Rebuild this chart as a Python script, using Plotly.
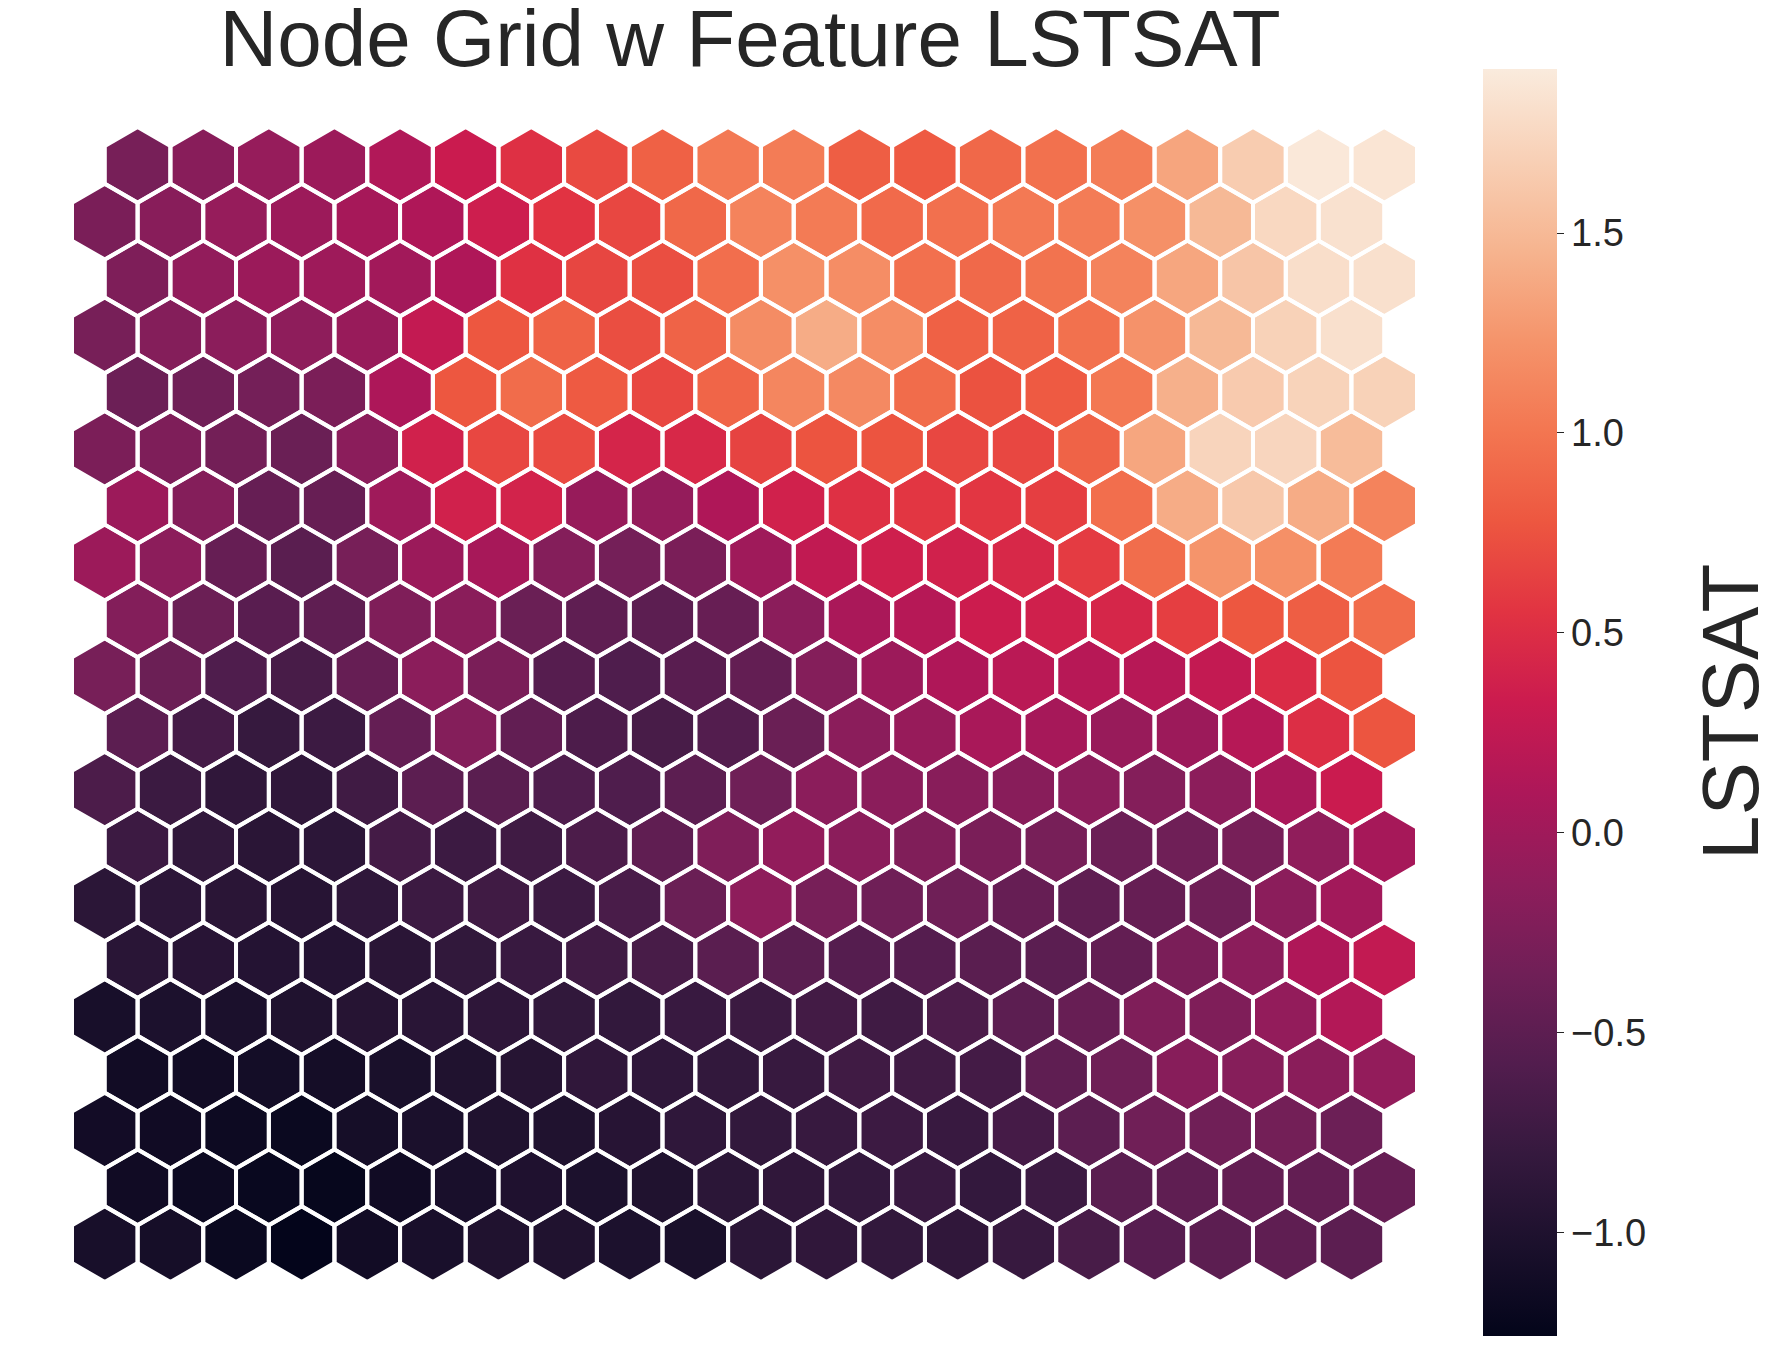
import numpy as np
import plotly.graph_objects as go
from plotly.colors import sample_colorscale

# ---------------- data (rows listed from top of the grid to bottom) ----------------
row00 = [-0.30,-0.17,-0.07,-0.02,0.13,0.32,0.52,0.70,0.85,1.03,1.05,0.83,0.80,0.90,0.97,1.06,1.35,1.65,1.89,1.86]
row01 = [-0.28,-0.17,-0.07,-0.02,0.05,0.12,0.35,0.55,0.68,0.90,1.10,1.04,0.92,0.96,1.03,1.05,1.20,1.50,1.75,1.83]
row02 = [-0.25,-0.10,-0.03,-0.01,0.02,0.12,0.53,0.67,0.72,0.95,1.20,1.18,0.96,0.91,0.98,1.10,1.36,1.60,1.80,1.82]
row03 = [-0.30,-0.20,-0.15,-0.13,-0.05,0.27,0.78,0.86,0.72,0.87,1.17,1.40,1.18,0.85,0.86,0.97,1.22,1.50,1.70,1.82]
row04 = [-0.38,-0.35,-0.32,-0.27,0.10,0.78,0.93,0.80,0.68,0.88,1.13,1.15,0.93,0.75,0.80,1.02,1.43,1.64,1.71,1.70]
row05 = [-0.27,-0.25,-0.33,-0.40,-0.15,0.38,0.68,0.70,0.42,0.45,0.65,0.76,0.76,0.68,0.68,0.87,1.36,1.72,1.73,1.52]
row06 = [-0.02,-0.20,-0.43,-0.42,0.00,0.38,0.40,-0.06,-0.08,0.12,0.38,0.52,0.57,0.57,0.62,0.95,1.40,1.62,1.40,1.10]
row07 = [-0.02,-0.14,-0.43,-0.52,-0.30,-0.03,0.06,-0.20,-0.32,-0.28,0.00,0.25,0.36,0.38,0.45,0.60,0.94,1.23,1.20,1.04]
row08 = [-0.21,-0.39,-0.53,-0.48,-0.24,-0.16,-0.40,-0.48,-0.50,-0.42,-0.15,0.08,0.17,0.34,0.37,0.43,0.62,0.78,0.83,0.93]
row09 = [-0.30,-0.39,-0.60,-0.66,-0.43,-0.15,-0.28,-0.55,-0.60,-0.53,-0.45,-0.20,-0.02,0.12,0.20,0.18,0.18,0.27,0.48,0.76]
row10 = [-0.50,-0.68,-0.80,-0.75,-0.44,-0.20,-0.46,-0.62,-0.66,-0.57,-0.40,-0.15,-0.06,0.07,0.05,-0.05,-0.02,0.17,0.50,0.77]
row11 = [-0.63,-0.76,-0.85,-0.85,-0.72,-0.50,-0.52,-0.60,-0.60,-0.50,-0.36,-0.15,-0.15,-0.17,-0.17,-0.14,-0.20,-0.14,0.07,0.32]
row12 = [-0.75,-0.84,-0.90,-0.88,-0.69,-0.75,-0.72,-0.63,-0.47,-0.24,-0.10,-0.15,-0.23,-0.28,-0.30,-0.38,-0.36,-0.30,-0.11,0.05]
row13 = [-0.89,-0.88,-0.90,-0.93,-0.86,-0.75,-0.72,-0.75,-0.65,-0.40,-0.13,-0.30,-0.36,-0.36,-0.43,-0.48,-0.43,-0.36,-0.15,0.02]
row14 = [-0.91,-0.92,-0.95,-0.95,-0.90,-0.84,-0.78,-0.72,-0.66,-0.52,-0.52,-0.56,-0.56,-0.52,-0.51,-0.45,-0.28,-0.15,0.12,0.26]
row15 = [-1.06,-1.02,-1.03,-0.99,-0.94,-0.91,-0.87,-0.84,-0.83,-0.78,-0.76,-0.70,-0.72,-0.63,-0.50,-0.42,-0.24,-0.24,-0.09,0.15]
row16 = [-1.12,-1.12,-1.10,-1.09,-1.04,-0.99,-0.94,-0.85,-0.86,-0.83,-0.79,-0.72,-0.72,-0.69,-0.48,-0.37,-0.18,-0.19,-0.16,-0.09]
row17 = [-1.11,-1.13,-1.16,-1.18,-1.08,-1.03,-0.99,-0.99,-0.93,-0.86,-0.83,-0.79,-0.75,-0.78,-0.68,-0.50,-0.35,-0.35,-0.33,-0.38]
row18 = [-1.13,-1.16,-1.20,-1.22,-1.13,-1.05,-1.00,-1.02,-0.99,-0.89,-0.85,-0.82,-0.78,-0.82,-0.75,-0.52,-0.48,-0.45,-0.45,-0.43]
row19 = [-1.06,-1.08,-1.18,-1.25,-1.12,-1.05,-0.99,-0.99,-1.02,-1.04,-0.89,-0.85,-0.83,-0.85,-0.79,-0.66,-0.54,-0.50,-0.48,-0.50]

grid_rows_top_to_bottom = [row00, row01, row02, row03, row04, row05, row06, row07, row08, row09,
                           row10, row11, row12, row13, row14, row15, row16, row17, row18, row19]

value_min = -1.258
value_max = 1.911
tick_values = [-1.0, -0.5, 0.0, 0.5, 1.0, 1.5]
tick_labels = ["\u22121.0", "\u22120.5", "0.0", "0.5", "1.0", "1.5"]
title_text = "Node Grid w Feature LSTSAT"
feature_name = "LSTSAT"

# seaborn "rocket"-like colormap
rocket = [
    [0.000, "#03051A"], [0.071, "#1B102C"], [0.143, "#35193E"], [0.214, "#521D4E"],
    [0.286, "#701F57"], [0.357, "#8E1D5B"], [0.429, "#AD1759"], [0.500, "#CB1B4F"],
    [0.571, "#E13342"], [0.643, "#ED5740"], [0.714, "#F37651"], [0.786, "#F5946B"],
    [0.857, "#F6B48F"], [0.929, "#F8D0B6"], [1.000, "#FAEBDD"],
]

FONT = "Liberation Sans, Arial, Helvetica, sans-serif"
TEXT_COLOR = "#262626"

n_rows = len(grid_rows_top_to_bottom)
n_cols = len(row00)
R = 1.0 / np.sqrt(3.0)          # circumradius for unit flat-to-flat width
dy = np.sqrt(3.0) / 2.0
ang = np.deg2rad([90, 150, 210, 270, 330, 30, 90])

fig = go.Figure()

cx_all, cy_all, v_all = [], [], []
ox, oy = [], []
for i, row in enumerate(grid_rows_top_to_bottom):
    r = n_rows - 1 - i
    for j, v in enumerate(row):
        cx = j + 0.5 * (r % 2)
        cy = r * dy
        xs = cx + R * np.cos(ang)
        ys = cy + R * np.sin(ang)
        t = (v - value_min) / (value_max - value_min)
        col = sample_colorscale(rocket, [min(max(t, 0.0), 1.0)])[0]
        fig.add_trace(go.Scatter(x=xs, y=ys, mode="lines", fill="toself", fillcolor=col,
                                 line=dict(width=0, color=col), hoverinfo="skip", showlegend=False))
        ox += list(xs) + [None]
        oy += list(ys) + [None]
        cx_all.append(cx); cy_all.append(cy); v_all.append(v)

# white hex borders
fig.add_trace(go.Scatter(x=ox, y=oy, mode="lines", line=dict(color="white", width=4),
                         hoverinfo="skip", showlegend=False))

# invisible markers carrying the values -> colorbar
fig.add_trace(go.Scatter(
    x=cx_all, y=cy_all, mode="markers", showlegend=False, hoverinfo="skip",
    marker=dict(size=1, opacity=0, color=v_all, colorscale=rocket, cmin=value_min, cmax=value_max,
                showscale=True,
                colorbar=dict(
                    thickness=74, thicknessmode="pixels", len=1267, lenmode="pixels",
                    xref="container", x=1483 / 1776, xanchor="left", xpad=0,
                    yref="container", y=1 - 80 / 1345, yanchor="top", ypad=0,
                    outlinewidth=0, ticks="outside", ticklen=7, tickwidth=1, tickcolor=TEXT_COLOR,
                    tickvals=tick_values, ticktext=tick_labels, ticklabeloverflow="allow",
                    tickfont=dict(size=38, family=FONT, color=TEXT_COLOR),
                ))))

W, H = 1776, 1345
ml, mr, mt, mb = 72, 359, 127, 63
plot_w = W - ml - mr
plot_h = H - mt - mb

fig.update_layout(
    width=W, height=H,
    margin=dict(l=ml, r=mr, t=mt, b=mb, autoexpand=False),
    paper_bgcolor="white", plot_bgcolor="white",
    xaxis=dict(range=[-0.5, n_cols], visible=False, showgrid=False, zeroline=False),
    yaxis=dict(range=[-R, (n_rows - 1) * dy + R], visible=False, showgrid=False, zeroline=False),
    title=dict(text=title_text, x=750 / W, xref="container", xanchor="center",
               y=1 - 38 / H, yref="container", yanchor="middle",
               font=dict(size=80, family=FONT, color=TEXT_COLOR)),
    annotations=[dict(text=feature_name, textangle=-90, showarrow=False,
                      xref="paper", yref="paper",
                      x=(1730 - ml) / plot_w, y=(H - mb - 712) / plot_h,
                      xanchor="center", yanchor="middle",
                      font=dict(size=80, family=FONT, color=TEXT_COLOR))],
)

fig.write_html("out.html")
